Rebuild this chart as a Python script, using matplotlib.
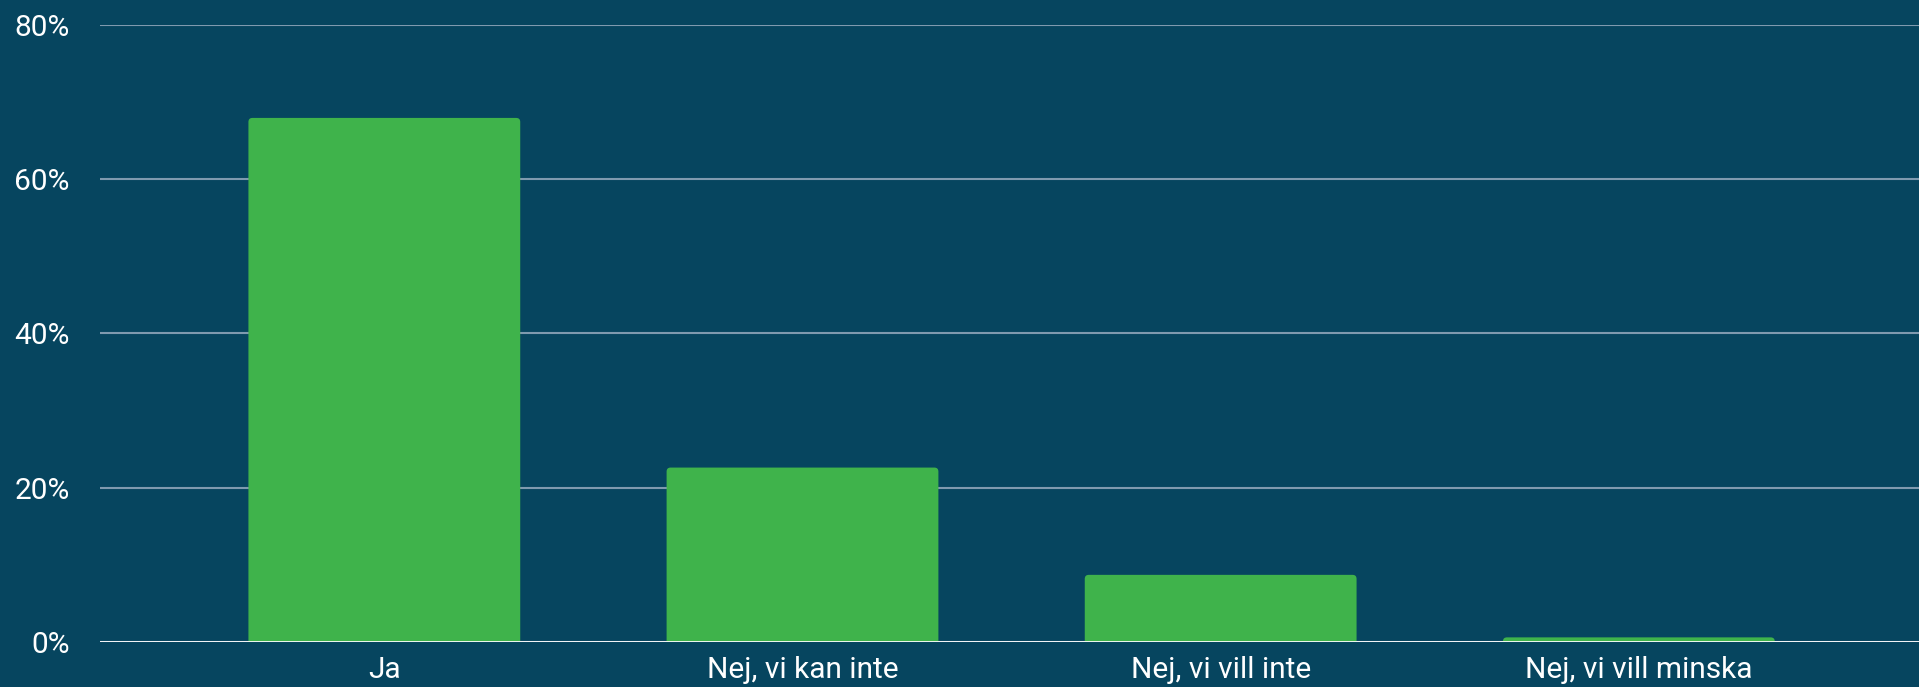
import matplotlib.pyplot as plt
from matplotlib.patches import FancyBboxPatch
from matplotlib.ticker import FuncFormatter

categories = ["Ja", "Nej, vi kan inte", "Nej, vi vill inte", "Nej, vi vill minska"]
values = [67.9, 22.6, 8.7, 0.6]
yticks = [0, 20, 40, 60, 80]

bg = "#06455F"
green = "#3FB34B"

plt.rcParams["font.family"] = ["Roboto", "DejaVu Sans"]

fig = plt.figure(figsize=(19.19, 6.87), dpi=100, facecolor=bg)
ax = fig.add_axes([0.0521, 0.0655, 0.9479, 0.8988], facecolor=bg)

ax.set_ylim(0, 80)
ax.set_xlim(-0.68, 3.67)

x = list(range(len(categories)))
bars = ax.bar(x, values, width=0.65, color=green, zorder=3)

# swap plain bars for ones with slightly rounded corners
fig.canvas.draw()
bb = ax.get_window_extent()
xpp = (3.67 + 0.68) / bb.width   # data units per pixel, x
ypp = 80 / bb.height             # data units per pixel, y
for b in bars:
    b.set_visible(False)
    r = 4 * xpp
    p = FancyBboxPatch((b.get_x(), -2), b.get_width(), b.get_height() + 2,
                       boxstyle=f"round,pad=0,rounding_size={r}",
                       mutation_aspect=ypp / xpp,
                       facecolor=green, edgecolor="none", zorder=3)
    ax.add_patch(p)

ax.set_yticks(yticks)
ax.yaxis.set_major_formatter(FuncFormatter(lambda v, p: f"{v:.0f}%"))
ax.set_xticks(x)
ax.set_xticklabels(categories)

ax.grid(axis="y", color="#7F9AAF", linewidth=1.5, zorder=1)
ax.axhline(0, color="white", linewidth=2, zorder=4)
for s in ax.spines.values():
    s.set_visible(False)

ax.tick_params(axis="both", length=0, labelcolor="white", labelsize=21.5)
ax.tick_params(axis="y", pad=22)
ax.tick_params(axis="x", pad=10)

fig.savefig("out.png", dpi=100, facecolor=bg)
